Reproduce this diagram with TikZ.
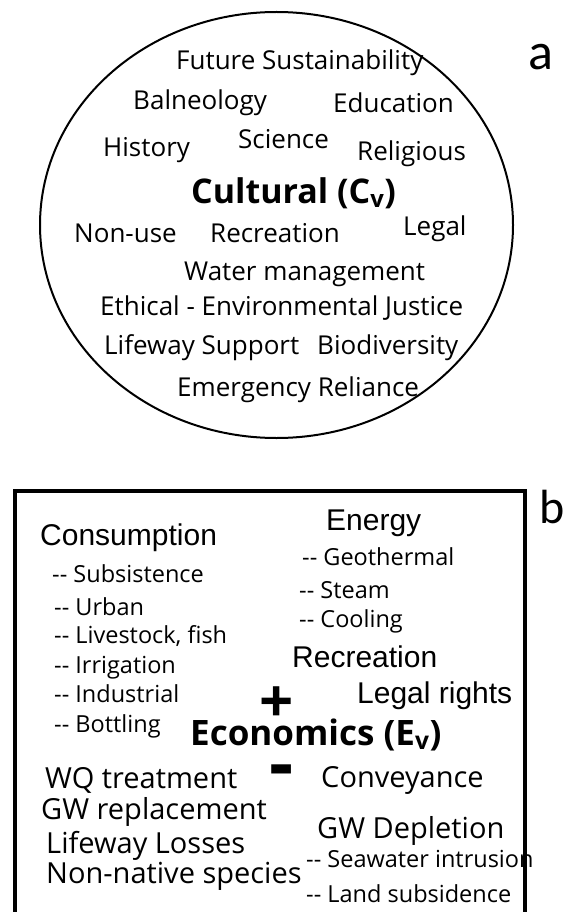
\documentclass[tikz,border=0pt]{standalone}
\usepackage{fontspec}
\setmainfont{Open Sans}
\newfontfamily\arialfont{Liberation Sans}
\newfontfamily\calfont{Carlito}
\usepackage{tikz}
\usetikzlibrary{positioning}

\begin{document}
\begin{tikzpicture}[x=1pt,y=-1pt,
    % define styles
    word/.style={
        inner sep=0pt,
        anchor=base west,
        font=\fontsize{26}{30}\selectfont
    },
    head/.style={
        inner sep=0pt,
        anchor=base west,
        font=\fontsize{34}{38}\selectfont\bfseries
    },
    item/.style={
        inner sep=0pt,
        anchor=base west,
        font=\fontsize{29}{33}\selectfont
    },
    sub/.style={
        inner sep=0pt,
        anchor=base west,
        font=\fontsize{23.5}{27}\selectfont
    },
    arial/.style={
        inner sep=0pt,
        anchor=base west,
        font=\fontsize{30}{34}\arialfont
    },
    panel/.style={
        inner sep=0pt,
        anchor=base west,
        font=\fontsize{#1}{#1}\calfont
    },
    sign/.style={
        inner sep=0pt,
        font=\fontsize{#1}{#1}\selectfont\bfseries
    }
]
\useasboundingbox (0,0) rectangle (565,912);

% Panel a: cultural values
\draw[line width=2pt] (276.5,225) ellipse [x radius=236.5pt, y radius=213pt];
\node[panel=52] (pa) at (528,70) {a};
\node[word] (fut) at (176,70)  {Future Sustainability};
\node[word] (bal) at (133,110) {Balneology};
\node[word] (edu) at (333,113) {Education};
\node[word] (his) at (103,157) {History};
\node[word] (sci) at (238,149) {Science};
\node[word] (rel) at (357,161) {Religious};
\node[head] (cul) at (191,203) {Cultural (C\textsubscript{v})};
\node[word] (non) at (74,242)  {Non-use};
\node[word] (rec) at (210,242) {Recreation};
\node[word] (leg) at (403,235) {Legal};
\node[word] (wat) at (184,280) {Water management};
\node[word] (eth) at (100,315) {Ethical - Environmental Justice};
\node[word] (lif) at (104,354) {Lifeway Support};
\node[word] (bio) at (317,354) {Biodiversity};
\node[word] (eme) at (177,396) {Emergency Reliance};

% Panel b: economic values
\node[panel=48] (pb) at (539,523) {b};
\node[arial] (con) at (40,545)  {Consumption};
\node[sub] (c1) at (52,582)   {-{}- Subsistence};
\node[sub] (c2) at (54,615)   {-{}- Urban};
\node[sub] (c3) at (54,643)   {-{}- Livestock, fish};
\node[sub] (c4) at (54,673)   {-{}- Irrigation};
\node[sub] (c5) at (54,702)   {-{}- Industrial};
\node[sub] (c6) at (54,732)   {-{}- Bottling};
\node[arial] (ene) at (326,530) {Energy};
\node[sub] (e1) at (302,565)  {-{}- Geothermal};
\node[sub] (e2) at (299,598)  {-{}- Steam};
\node[sub] (e3) at (299,627)  {-{}- Cooling};
\node[arial] (reb) at (292,667) {Recreation};
\node[arial] (lgr) at (357,703) {Legal rights};
\node[head,font=\fontsize{35}{39}\selectfont\bfseries] (eco) at (190,745) {Economics (E\textsubscript{v})};
\node[sign=60] (plus) at (277,705) {+};
\node[sign=75] (minus) at (282,777) {-};
\node[item] (wq)  at (45,788)  {WQ treatment};
\node[item] (cvy) at (321,787) {Conveyance};
\node[item] (gwr) at (41,819)  {GW replacement};
\node[item] (gwd) at (317,838) {GW Depletion};
\node[item] (lws) at (46,853)  {Lifeway Losses};
\node[sub] (d1) at (306,867)   {-{}- Seawater intrusion};
\node[item] (nns) at (46,883)  {Non-native species};
\node[sub] (d2) at (306,902)   {-{}- Land subsidence};
\draw[line width=4pt] (14.5,930) -- (14.5,490.5) -- (525,490.5) -- (525,930);
\end{tikzpicture}
\end{document}
